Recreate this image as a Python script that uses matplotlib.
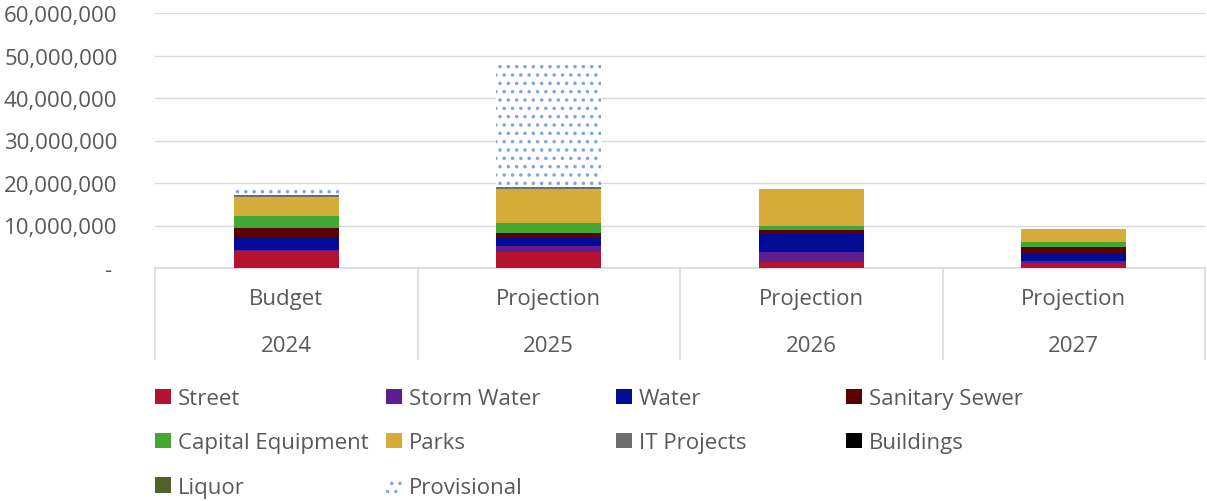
import numpy as np
import matplotlib
matplotlib.use('Agg')
import matplotlib.pyplot as plt
from matplotlib.patches import Patch
from matplotlib.transforms import blended_transform_factory

plt.rcParams['font.family'] = ['Open Sans', 'DejaVu Sans']
plt.rcParams['hatch.linewidth'] = 1.3

phases = ['Budget', 'Projection', 'Projection', 'Projection']
years = ['2024', '2025', '2026', '2027']

series = ['Street', 'Storm Water', 'Water', 'Sanitary Sewer', 'Capital Equipment',
          'Parks', 'IT Projects', 'Buildings', 'Liquor', 'Provisional']
street = [3.9e6, 3.7e6, 1.4e6, 1.2e6]
storm_water = [0.3e6, 1.5e6, 2.35e6, 0.5e6]
water = [3.2e6, 1.8e6, 4.3e6, 1.6e6]
sanitary_sewer = [2.0e6, 1.3e6, 0.9e6, 1.6e6]
capital_equipment = [2.8e6, 2.4e6, 0.9e6, 1.3e6]
parks = [4.6e6, 8.0e6, 8.7e6, 2.9e6]
it_projects = [0.3e6, 0.4e6, 0.1e6, 0.0]
buildings = [0.0, 0.0, 0.0, 0.0]
liquor = [0.0, 0.0, 0.0, 0.0]
provisional = [2.4e6, 29.5e6, 0.4e6, 0.0]

values = [street, storm_water, water, sanitary_sewer, capital_equipment,
          parks, it_projects, buildings, liquor, provisional]
colors = ['#B5122F', '#5E1D91', '#000C96', '#5A0000', '#43A832',
          '#D6AD3A', '#6E6E6E', '#000000', '#4F6228', 'white']

txt = '#595959'
grid = '#D9D9D9'
fs = 16

fig = plt.figure(figsize=(12.07, 5.02), dpi=100)
ax = fig.add_axes([155 / 1207, 1 - 269 / 502, 1050 / 1207, 255 / 502])

x = np.arange(len(years))
bottom = np.zeros(len(years))
handles = []
for name, vals, c in zip(series, values, colors):
    vals = np.array(vals)
    if name == 'Provisional':
        ax.bar(x, vals, 0.4, bottom=bottom, color='white', edgecolor='#7EA6E0',
               hatch='..', linewidth=0, zorder=3)
        handles.append(Patch(facecolor='white', edgecolor='#7EA6E0', hatch='..', linewidth=0))
    else:
        ax.bar(x, vals, 0.4, bottom=bottom, color=c, linewidth=0, zorder=3)
        handles.append(Patch(facecolor=c, edgecolor=c, linewidth=0))
    bottom += vals

ax.set_xlim(-0.5, 3.5)
ax.set_ylim(0, 60e6)
ax.set_yticks(np.arange(0, 60e6 + 1, 10e6))
ax.set_yticklabels([f'{int(v):,}' if v > 0 else '- ' for v in ax.get_yticks()])
ax.tick_params(axis='y', length=0, pad=27, labelsize=fs, labelcolor=txt)
ax.grid(axis='y', color=grid, linewidth=1, zorder=0)
ax.set_xticks([])
for s in ['top', 'right', 'left']:
    ax.spines[s].set_visible(False)
ax.spines['bottom'].set_color(grid)
ax.spines['bottom'].set_linewidth(1.2)

# category axis boxes
tr = blended_transform_factory(ax.transData, ax.transAxes)
for b in np.arange(-0.5, 4, 1):
    ax.plot([b, b], [0, -91 / 255], color=grid, lw=1.2, transform=tr, clip_on=False)
for i in x:
    ax.text(i, -31 / 255, phases[i], transform=tr, ha='center', va='center',
            fontsize=fs, color=txt)
    ax.text(i, -78 / 255, years[i], transform=tr, ha='center', va='center',
            fontsize=fs, color=txt)

# legend, laid out row by row in four columns
cols = [[0, 4, 8], [1, 5, 9], [2, 6], [3, 7]]
col_x = [155, 386, 616, 846]
for cx, idx in zip(col_x, cols):
    leg = fig.legend([handles[k] for k in idx], [series[k] for k in idx],
                     loc='upper left', bbox_to_anchor=(cx / 1207, 1 - 389 / 502),
                     frameon=False, fontsize=fs, labelcolor=txt, borderpad=0,
                     borderaxespad=0, handlelength=0.72, handleheight=0.68,
                     handletextpad=0.3, labelspacing=1.05)

fig.savefig('out.png', dpi=100)
